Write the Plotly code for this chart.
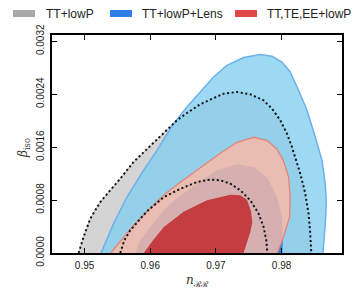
import plotly.graph_objects as go

# ---------------- data ----------------
x_tick_vals = [0.95, 0.96, 0.97, 0.98]
x_tick_text = ["0.95", "0.96", "0.97", "0.98"]
y_tick_vals = [0.0, 0.0008, 0.0016, 0.0024, 0.0032]
y_tick_text = ["0.0000", "0.0008", "0.0016", "0.0024", "0.0032"]

series_names = ["TT+lowP", "TT+lowP+Lens", "TT,TE,EE+lowP"]

# TT+lowP, 95% contour (dotted)
tt95_n = [0.94909, 0.94985, 0.95087, 0.95239, 0.95391, 0.95544, 0.95746, 0.95975,
          0.96153, 0.96305, 0.96407, 0.96559, 0.96762, 0.96914, 0.97117, 0.97321,
          0.97523, 0.97726, 0.97854, 0.97980, 0.98082, 0.98158, 0.98208, 0.98285,
          0.98361, 0.98411, 0.98437, 0.98452]
tt95_b = [0.0, 0.000242, 0.000520, 0.000771, 0.000948, 0.001125, 0.001376, 0.001593,
          0.001753, 0.001905, 0.002006, 0.002116, 0.002248, 0.002319, 0.002409, 0.002434,
          0.002399, 0.002308, 0.002183, 0.002006, 0.001805, 0.001602, 0.001451, 0.001200,
          0.000898, 0.000596, 0.000293, 0.0]

# TT+lowP, 68% contour (dotted)
tt68_n = [0.95544, 0.95605, 0.95696, 0.95802, 0.95950, 0.96203, 0.96457, 0.96712,
          0.96914, 0.97066, 0.97219, 0.97371, 0.97523, 0.97650, 0.97726, 0.97767, 0.97782]
tt68_b = [0.0, 0.000192, 0.000343, 0.000464, 0.000630, 0.000842, 0.000970, 0.001073,
          0.001110, 0.001099, 0.001049, 0.000948, 0.000797, 0.000596, 0.000393, 0.000192, 0.0]

# TT+lowP+Lens, 95% contour
lens95_n = [0.95250, 0.95442, 0.95646, 0.95898, 0.96102, 0.96355, 0.96559, 0.96762,
            0.96964, 0.97168, 0.97421, 0.97676, 0.97854, 0.98006, 0.98132, 0.98259,
            0.98387, 0.98513, 0.98615, 0.98665, 0.98681, 0.98665, 0.98630]
lens95_b = [0.0, 0.000444, 0.000846, 0.001250, 0.001552, 0.001956, 0.002207, 0.002434,
            0.002660, 0.002837, 0.002954, 0.002999, 0.002973, 0.002887, 0.002736, 0.002459,
            0.002157, 0.001753, 0.001401, 0.001049, 0.000747, 0.000444, 0.0]

# TT+lowP+Lens, 68% contour
lens68_n = [0.95772, 0.95848, 0.96000, 0.96153, 0.96305, 0.96712, 0.97016, 0.97321,
            0.97573, 0.97778, 0.97930, 0.98006, 0.98021, 0.98011]
lens68_b = [0.0, 0.000192, 0.000393, 0.000585, 0.000747, 0.001049, 0.001250, 0.001341,
            0.001300, 0.001149, 0.000846, 0.000544, 0.000242, 0.0]

# TT,TE,EE+lowP, 95% contour
pol95_n = [0.95399, 0.95544, 0.95746, 0.96000, 0.96203, 0.96457, 0.96712, 0.96914,
           0.97066, 0.97321, 0.97573, 0.97778, 0.97930, 0.98026, 0.98106, 0.98132,
           0.98122, 0.98030, 0.97934]
pol95_b = [0.0, 0.000177, 0.000419, 0.000676, 0.000872, 0.001069, 0.001250, 0.001386,
           0.001507, 0.001673, 0.001749, 0.001704, 0.001568, 0.001401, 0.001149, 0.000846,
           0.000544, 0.000242, 0.0]

# TT,TE,EE+lowP, 68% contour
pol68_n = [0.95901, 0.96031, 0.96203, 0.96508, 0.96864, 0.97219, 0.97371, 0.97473,
           0.97534, 0.97554, 0.97523, 0.97473, 0.97421]
pol68_b = [0.0, 0.000177, 0.000388, 0.000623, 0.000797, 0.000880, 0.000872, 0.000804,
           0.000630, 0.000464, 0.000313, 0.000147, 0.0]

# ---------------- styles ----------------
W, H = 359, 298
L, R, T, B = 52, 17, 35, 45
PW, PH = W - L - R, H - T - B

def px_to_paper_x(px):
    return (px - L) / PW

def px_to_paper_y(py):
    return (H - B - py) / PH

fig = go.Figure()

def fill(xs, ys, color):
    fig.add_trace(go.Scatter(x=xs, y=ys, mode="lines", fill="toself",
                             fillcolor=color, line=dict(width=0, color=color),
                             hoverinfo="skip", showlegend=False))

def outline(xs, ys, color, width=1.3, dash=None):
    fig.add_trace(go.Scatter(x=xs, y=ys, mode="lines",
                             line=dict(width=width, color=color, dash=dash),
                             hoverinfo="skip", showlegend=False))

# TT+lowP grey
fill(tt95_n, tt95_b, "#d4d4d4")
outline(tt95_n, tt95_b, "rgba(150,150,150,0.6)", width=0.8)
# Lens blue
fill(lens95_n, lens95_b, "rgba(131,206,240,0.78)")
outline(lens95_n, lens95_b, "#6cb0ee", width=1.5)
fill(lens68_n, lens68_b, "rgb(40,126,230)")
# Pol red
fill(pol95_n, pol95_b, "rgba(250,185,165,0.83)")
outline(pol95_n, pol95_b, "#e2867c", width=1.3)
fill(pol68_n, pol68_b, "#c33d41")
# TT+lowP dotted contours on top
outline(tt68_n, tt68_b, "rgba(150,150,150,0.5)", width=0.8)
outline(tt95_n, tt95_b, "#111111", width=2, dash="2px,2.6px")
outline(tt68_n, tt68_b, "#111111", width=2, dash="2px,2.6px")

axis_common = dict(showline=True, linecolor="black", linewidth=1.5, mirror="ticks",
                   ticks="inside", ticklen=5, tickwidth=1, tickcolor="black",
                   showgrid=False, zeroline=False,
                   tickfont=dict(family="Liberation Sans, Arial", size=10, color="#222"))

fig.update_xaxes(range=[0.94504, 0.98920], tickvals=x_tick_vals, ticktext=x_tick_text,
                 ticklabelstandoff=2, **axis_common)
fig.update_yaxes(range=[0.0, 0.003295], tickvals=y_tick_vals, ticktext=y_tick_text,
                 tickangle=-90, ticklabelstandoff=2, **axis_common)

# legend (manual)
legend_colors = ["#a8a8a8", "#2b7fe6", "#e04848"]
sw_left = [13, 110, 235]
txt_left = [44, 140, 265]
shapes = []
annotations = []
for name, col, sx, tx in zip(series_names, legend_colors, sw_left, txt_left):
    shapes.append(dict(type="rect", xref="paper", yref="paper",
                       x0=px_to_paper_x(sx), x1=px_to_paper_x(sx + 22),
                       y0=px_to_paper_y(17), y1=px_to_paper_y(10),
                       fillcolor=col, line=dict(width=0)))
    annotations.append(dict(text=name, xref="paper", yref="paper",
                            x=px_to_paper_x(tx), y=px_to_paper_y(13.5),
                            xanchor="left", yanchor="middle", showarrow=False,
                            font=dict(family="Liberation Sans, Arial", size=12, color="#222")))

annotations.append(dict(text="<i>n</i><sub>ℛℛ</sub>", xref="paper", yref="paper",
                        x=0.5, y=px_to_paper_y(281), xanchor="center", yanchor="middle",
                        showarrow=False,
                        font=dict(family="DejaVu Serif", size=12, color="#333")))
annotations.append(dict(text="<i>β</i><sub>iso</sub>", xref="paper", yref="paper",
                        x=px_to_paper_x(24), y=px_to_paper_y(148), xanchor="center",
                        yanchor="middle", showarrow=False, textangle=-90,
                        font=dict(family="DejaVu Serif", size=12, color="#333")))

fig.update_layout(width=W, height=H, autosize=False,
                  margin=dict(l=L, r=R, t=T, b=B, pad=0),
                  plot_bgcolor="white", paper_bgcolor="white",
                  showlegend=False, shapes=shapes, annotations=annotations)

fig.write_html("out.html", config={"displayModeBar": False},
               post_script="document.body.style.margin='0';")
